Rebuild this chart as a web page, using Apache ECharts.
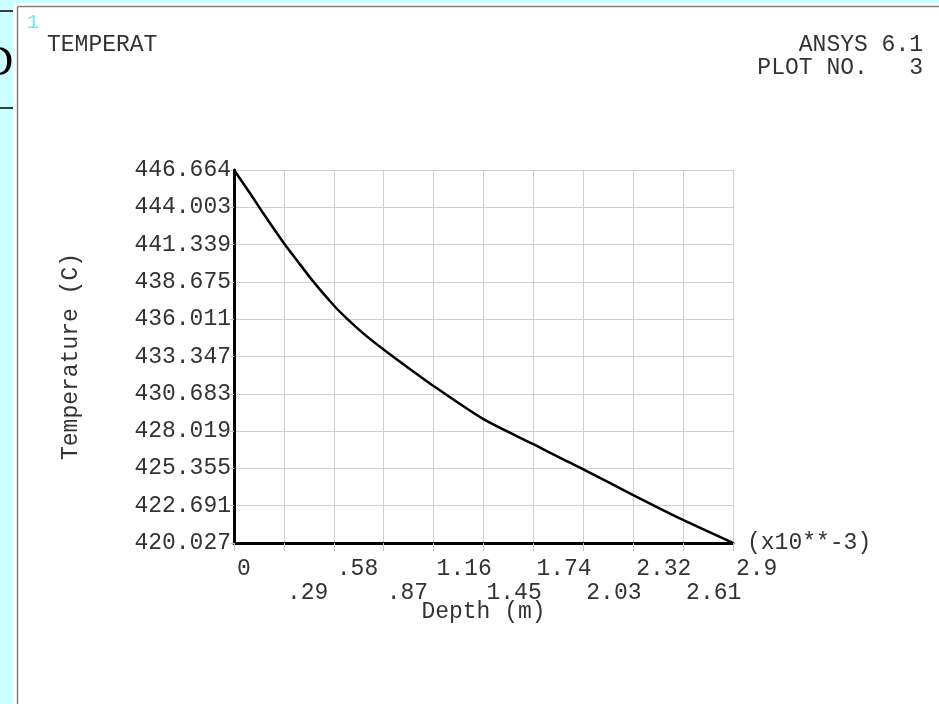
<!DOCTYPE html>
<html>
<head>
<meta charset="utf-8">
<script src="https://cdn.jsdelivr.net/npm/echarts@6/dist/echarts.min.js"></script>
<style>html,body{margin:0;padding:0;background:#ccffff;}#c{width:939px;height:704px;}</style>
</head>
<body>
<div id="c"></div>
<script>
// Depth in units of 10**-3 m
const depth = [0, 0.093, 0.17, 0.29, 0.364, 0.461, 0.583, 0.655, 0.751, 0.873, 1.004, 1.16, 1.45, 1.74, 1.913, 2.03, 2.32, 2.61, 2.9];
// Temperature (C)
const temp = [446.664, 445.0, 443.57, 441.43, 440.24, 438.69, 436.95, 436.07, 435.00, 433.81, 432.62, 431.24, 428.87, 427.08, 426.0, 425.29, 423.45, 421.67, 420.027];
const xTickLabels = ['0', '.29', '.58', '.87', '1.16', '1.45', '1.74', '2.03', '2.32', '2.61', '2.9'];
const yTickLabels = ['420.027', '422.691', '425.355', '428.019', '430.683', '433.347', '436.011', '438.675', '441.339', '444.003', '446.664'];
const xMin = 0, xMax = 2.9, xStep = 0.29;
const yMin = 420.027, yMax = 446.664, yStep = 2.6637;

const mono = 'Liberation Mono';
const txt = '#333';
const chart = echarts.init(document.getElementById('c'));
const pts = depth.map((d, i) => [d, temp[i]]);

function xLabel(parity) {
  return function (v) {
    const i = Math.round((v - xMin) / xStep);
    return (i % 2 === parity) ? (xTickLabels[i] || '') : '';
  };
}

chart.setOption({
  backgroundColor: '#ccffff',
  animation: false,
  title: {
    text: 'TEMPERAT', left: 47, top: 33, padding: 0,
    textStyle: { fontFamily: mono, fontSize: 23, fontWeight: 'normal', color: txt }
  },
  graphic: [
    { type: 'text', z: -300, style: { text: 'D', x: 13, y: 64, align: 'right', verticalAlign: 'middle', font: '42px "Liberation Serif"', fill: '#000' } },
    { type: 'line', z: -300, shape: { x1: 0, y1: 11, x2: 13, y2: 11 }, style: { stroke: '#000', lineWidth: 1.5 } },
    { type: 'line', z: -300, shape: { x1: 0, y1: 108, x2: 13, y2: 108 }, style: { stroke: '#000', lineWidth: 1.5 } },
    { type: 'rect', z: -200, shape: { x: 13, y: 3, width: 940, height: 710 }, style: { fill: '#fff' } },
    { type: 'line', z: -150, shape: { x1: 17.5, y1: 6.5, x2: 939, y2: 6.5 }, style: { stroke: '#808080', lineWidth: 1.5 } },
    { type: 'line', z: -150, shape: { x1: 17.5, y1: 6.5, x2: 17.5, y2: 704 }, style: { stroke: '#808080', lineWidth: 1.5 } },
    { type: 'text', style: { text: '1', x: 27, y: 13, font: '20px "Liberation Mono"', fill: '#66eeee' } },
    { type: 'text', style: { text: 'ANSYS 6.1\nPLOT NO.   3', x: 923, y: 33, align: 'right', font: '23px "Liberation Mono"', lineHeight: 23, fill: txt } }
  ],
  grid: { left: 234, right: 206, top: 170, bottom: 161, containLabel: false },
  xAxis: [{
    type: 'value', min: xMin, max: xMax, interval: xStep,
    name: '(x10**-3)', nameLocation: 'end', nameGap: 14,
    nameTextStyle: { fontFamily: mono, fontSize: 23, color: txt, verticalAlign: 'middle' },
    axisLine: { show: true, onZero: false, lineStyle: { color: '#000', width: 3 } },
    axisTick: { show: true, length: 8, lineStyle: { color: '#c8c8c8', width: 1 } },
    splitLine: { show: true, lineStyle: { color: '#d0d0d0', width: 1 } },
    axisLabel: {
      fontFamily: mono, fontSize: 23, color: txt, margin: 14,
      align: 'left', padding: [0, 0, 0, 3], showMinLabel: true, showMaxLabel: true,
      formatter: xLabel(0)
    }
  }, {
    type: 'value', min: xMin, max: xMax, interval: xStep, position: 'bottom',
    name: 'Depth (m)', nameLocation: 'middle', nameGap: 57, nameMoveOverlap: false,
    nameTextStyle: { fontFamily: mono, fontSize: 23, color: txt },
    axisLine: { show: false }, axisTick: { show: false }, splitLine: { show: false },
    axisLabel: {
      fontFamily: mono, fontSize: 23, color: txt, margin: 38,
      align: 'left', padding: [0, 0, 0, 3], showMinLabel: true, showMaxLabel: true,
      formatter: xLabel(1)
    }
  }],
  yAxis: {
    type: 'value', min: yMin, max: yMax, interval: yStep,
    name: 'Temperature (C)', nameLocation: 'middle', nameGap: 152, nameRotate: 90,
    nameTextStyle: { fontFamily: mono, fontSize: 23, color: txt },
    axisLine: { show: true, onZero: false, lineStyle: { color: '#000', width: 3 } },
    axisTick: { show: true, length: 4, lineStyle: { color: '#c8c8c8', width: 1 } },
    splitLine: { show: true, lineStyle: { color: '#d0d0d0', width: 1 } },
    axisLabel: {
      fontFamily: mono, fontSize: 23, color: txt, margin: 3, showMinLabel: true, showMaxLabel: true,
      formatter: function (v) {
        const i = Math.round((v - yMin) / yStep);
        return yTickLabels[i] || '';
      }
    }
  },
  series: [{
    type: 'line', data: pts, showSymbol: false, smooth: 0.25,
    lineStyle: { color: '#000', width: 2.5 }, z: 5
  }]
});
</script>
</body>
</html>
